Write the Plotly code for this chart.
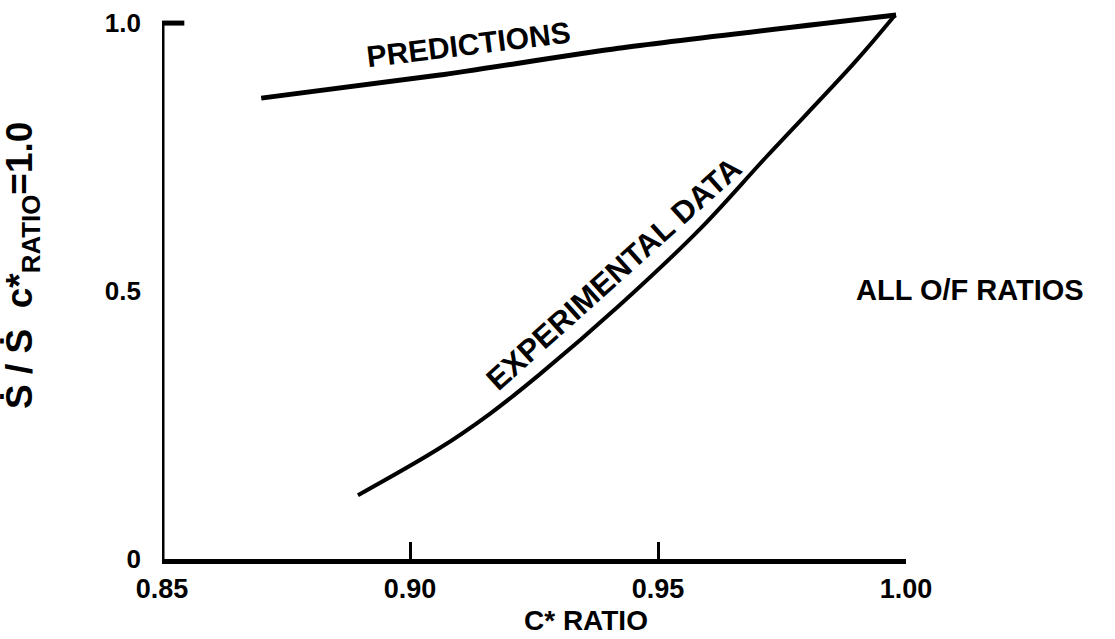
import plotly.graph_objects as go

# Experimental burning-rate ratio vs. c* ratio
exp_c_star = [0.8895, 0.9060, 0.9161, 0.9262, 0.9423, 0.9585, 0.9720, 0.9897, 0.9978]
exp_rate = [0.119, 0.207, 0.271, 0.345, 0.474, 0.616, 0.752, 0.927, 1.015]

# Predicted curve
pred_c_star = [0.870, 0.906, 0.942, 0.998]
pred_rate = [0.860, 0.903, 0.953, 1.015]

x_ticks = [0.85, 0.90, 0.95, 1.00]
x_tick_labels = ["0.85", "0.90", "0.95", "1.00"]
y_ticks = [0, 0.5, 1.0]
y_tick_labels = ["0", "0.5", "1.0"]

FONT = "Liberation Sans"
INK = "black"
WEIGHT = "bold"

fig = go.Figure()

fig.add_trace(go.Scatter(
    x=pred_c_star, y=pred_rate, mode="lines",
    line=dict(color=INK, width=5, shape="spline", smoothing=0.6),
    showlegend=False, hoverinfo="skip",
))
fig.add_trace(go.Scatter(
    x=exp_c_star, y=exp_rate, mode="lines",
    line=dict(color=INK, width=4, shape="spline", smoothing=1.0),
    showlegend=False, hoverinfo="skip",
))

# y-axis line, top corner tick and mid tick
fig.add_shape(type="line", xref="x", yref="y", x0=0.85, y0=0, x1=0.85, y1=1.0,
              line=dict(color=INK, width=5))
fig.add_shape(type="line", xref="x", yref="y", x0=0.85, y0=1.0, x1=0.8545, y1=1.0,
              line=dict(color=INK, width=5))
fig.add_shape(type="line", xref="x", yref="y", x0=0.8475, y0=0.5, x1=0.85, y1=0.5,
              line=dict(color=INK, width=3))

# curve labels
fig.add_annotation(x=0.9117, y=0.960, xref="x", yref="y", text="PREDICTIONS",
                   textangle=-7, showarrow=False, xanchor="center", yanchor="middle",
                   font=dict(family=FONT, size=30, color=INK, weight=WEIGHT))
fig.add_annotation(x=0.9412, y=0.532, xref="x", yref="y", text="EXPERIMENTAL DATA",
                   textangle=-42, showarrow=False, xanchor="center", yanchor="middle",
                   font=dict(family=FONT, size=31, color=INK, weight=WEIGHT))

# side note and axis titles
fig.add_annotation(x=1.086, y=0.487, xref="paper", yref="paper", text="ALL O/F RATIOS",
                   showarrow=False, xanchor="center", yanchor="middle",
                   font=dict(family=FONT, size=29, color=INK, weight=WEIGHT))
fig.add_annotation(x=0.570, y=-0.112, xref="paper", yref="paper", text="C* RATIO",
                   showarrow=False, xanchor="center", yanchor="middle",
                   font=dict(family=FONT, size=28, color=INK, weight=WEIGHT))
fig.add_annotation(x=-0.188, y=0.531, xref="paper", yref="paper",
                   text="Ṡ / Ṡ  c*<sub>RATIO</sub>=1.0",
                   textangle=-90, showarrow=False, xanchor="center", yanchor="middle",
                   font=dict(family=FONT, size=37, color=INK, weight=WEIGHT))

fig.update_layout(
    width=1115, height=639,
    margin=dict(l=162, r=209, t=7, b=80),
    paper_bgcolor="white", plot_bgcolor="white",
    font=dict(family=FONT, color=INK),
    xaxis=dict(
        range=[0.85, 1.0], tickvals=x_ticks, ticktext=x_tick_labels,
        showline=True, linecolor=INK, linewidth=5,
        ticks="inside", ticklen=17, tickwidth=3, tickcolor=INK,
        showgrid=False, zeroline=False, ticklabelstandoff=2,
        tickfont=dict(family=FONT, size=27, color=INK, weight=WEIGHT),
    ),
    yaxis=dict(
        range=[0, 1.03], tickvals=y_ticks, ticktext=y_tick_labels,
        showline=False, ticks="", showgrid=False, zeroline=False,
        ticklabelstandoff=20,
        tickfont=dict(family=FONT, size=26, color=INK, weight=WEIGHT),
    ),
)

fig.write_html("out.html")
